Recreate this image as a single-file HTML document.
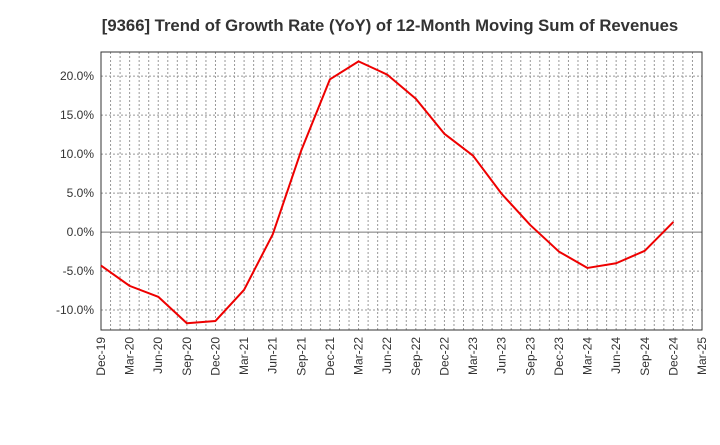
<!DOCTYPE html>
<html><head><meta charset="utf-8"><style>
body{margin:0;background:#fff;font-family:"Liberation Sans",sans-serif;}
svg text{font-family:"Liberation Sans",sans-serif;}
</style></head><body>
<svg id="chart" width="720" height="440" xmlns="http://www.w3.org/2000/svg">
<text x="390" y="31" text-anchor="middle" font-size="16.7" font-weight="bold" fill="#333">[9366]  Trend of Growth Rate (YoY) of 12-Month Moving Sum of Revenues</text>
<g id="grid"></g><g id="axes"></g><g id="series"></g>
</svg>
<script>
const categories=["Dec-19","Mar-20","Jun-20","Sep-20","Dec-20","Mar-21","Jun-21","Sep-21","Dec-21","Mar-22","Jun-22","Sep-22","Dec-22","Mar-23","Jun-23","Sep-23","Dec-23","Mar-24","Jun-24","Sep-24","Dec-24","Mar-25"];
const values=[-4.3,-6.9,-8.3,-11.7,-11.4,-7.4,-0.3,10.5,19.6,21.9,20.2,17.1,12.6,9.8,4.9,0.9,-2.5,-4.6,-4.0,-2.4,1.3];
const yTicks=[-10,-5,0,5,10,15,20];
const yTickLabels=["-10.0%","-5.0%","0.0%","5.0%","10.0%","15.0%","20.0%"];
const L=101,R=702,T=52,B=330,yMin=-12.56,yMax=23.1;
const NS="http://www.w3.org/2000/svg";
const x=i=>L+(R-L)*i/(categories.length-1);
const y=v=>B-(v-yMin)/(yMax-yMin)*(B-T);
function mk(tag,attrs,parent){const e=document.createElementNS(NS,tag);for(const k in attrs)e.setAttribute(k,attrs[k]);parent.appendChild(e);return e;}
const grid=document.getElementById('grid'),axes=document.getElementById('axes'),series=document.getElementById('series');
const months=(categories.length-1)*3;
for(let m=1;m<months;m++){const xx=L+(R-L)*m/months;
 const l=mk('line',{x1:xx,x2:xx,y1:T,y2:B,stroke:'#999','stroke-dasharray':'2,2','stroke-width':1},grid);
 
 }
yTicks.forEach((t,i)=>{const yy=y(t);
 const l=mk('line',{x1:L,x2:R,y1:yy,y2:yy,stroke:t===0?'#777':'#999','stroke-dasharray':t===0?'':'2,2','stroke-width':1},grid);
 
 
 const tx=mk('text',{x:L-7,y:yy+4,'text-anchor':'end','font-size':12,fill:'#333'},axes);tx.textContent=yTickLabels[i];
 
 });
const fr=mk('rect',{x:L,y:T,width:R-L,height:B-T,fill:'none',stroke:'#333','stroke-width':1},axes);


categories.forEach((c,i)=>{const xx=x(i);
 const tx=mk('text',{x:0,y:0,'text-anchor':'end','font-size':12,fill:'#333',transform:`translate(${xx+4},${B+7}) rotate(-90)`},axes);tx.textContent=c;
 
 });
const pts=values.map((v,i)=>x(i)+','+y(v)).join(' ');
const pl=mk('polyline',{points:pts,fill:'none',stroke:'#e00','stroke-width':2,'stroke-linejoin':'round'},series);


</script>
</body></html>
